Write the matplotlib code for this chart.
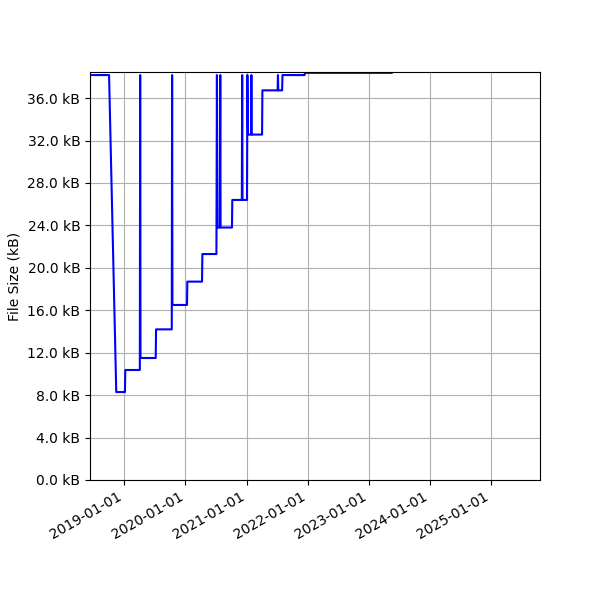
import numpy as np
import pandas as pd
import matplotlib
matplotlib.use('Agg')
from matplotlib import pyplot as plt
import matplotlib.dates as mdates
from matplotlib.ticker import MultipleLocator, FuncFormatter

#%% data (size in kB)
dates = ['2018-06-10', '2018-10-01', '2018-11-13', '2019-01-04', '2019-01-06',
         '2019-04-03', '2019-04-05', '2019-04-07', '2019-07-07', '2019-07-09',
         '2019-10-11', '2019-10-13', '2019-10-15', '2020-01-10', '2020-01-12',
         '2020-04-09', '2020-04-11', '2020-07-04', '2020-07-07', '2020-07-10',
         '2020-07-24', '2020-07-27', '2020-07-29', '2020-10-05', '2020-10-07',
         '2020-12-03', '2020-12-05', '2020-12-07', '2021-01-03', '2021-01-05',
         '2021-01-09', '2021-01-27', '2021-01-29', '2021-01-31', '2021-04-03',
         '2021-04-05', '2021-07-05', '2021-07-07', '2021-07-09', '2021-08-01',
         '2021-08-03', '2021-12-13', '2021-12-15', '2023-05-18']
sizes = [38.17, 38.17, 8.29, 8.29, 10.37,
         10.37, 38.17, 11.5, 11.5, 14.2,
         14.2, 38.17, 16.5, 16.5, 18.7,
         18.7, 21.3, 21.3, 38.17, 23.8,
         23.8, 38.17, 23.8, 23.8, 26.4,
         26.4, 38.17, 26.4, 26.4, 38.17,
         32.56, 32.56, 38.17, 32.56, 32.56,
         36.73, 36.73, 38.17, 36.73, 36.73,
         38.17, 38.17, 38.38, 38.38]

dates = pd.to_datetime(dates)

#%% plot
fig, ax = plt.subplots(figsize=(6, 6), dpi=100)
ax.plot(dates, sizes, color='blue', linewidth=1.5)

ax.set_ylim(0, 38.46)
ax.set_xlim(pd.Timestamp('2018-06-09'), pd.Timestamp('2025-10-21'))
ax.yaxis.set_major_locator(MultipleLocator(4))
ax.yaxis.set_major_formatter(FuncFormatter(lambda v, p: '%.1f kB' % v))
ax.xaxis.set_major_locator(mdates.YearLocator())
ax.xaxis.set_major_formatter(mdates.DateFormatter('%Y-%m-%d'))
ax.set_ylabel('File Size (kB)')
ax.grid(True)

fig.autofmt_xdate()
fig.subplots_adjust(left=0.15, right=0.9, top=0.88, bottom=0.2)
fig.savefig('out.png', dpi=100)
